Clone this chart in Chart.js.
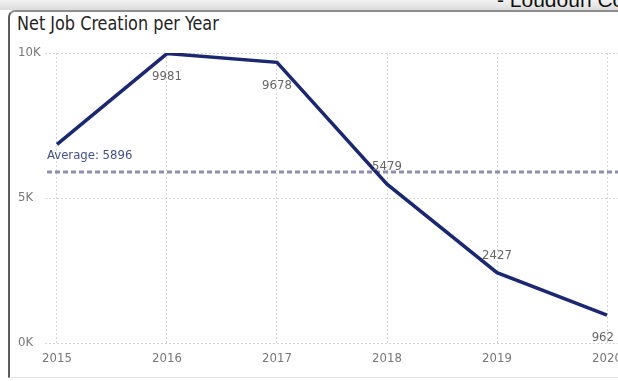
<!DOCTYPE html>
<html>
<head>
<meta charset="utf-8">
<script src="https://cdn.jsdelivr.net/npm/chart.js@4.4.1/dist/chart.umd.min.js"></script>
<style>
  html, body { margin: 0; padding: 0; width: 618px; height: 381px; overflow: hidden; background: #fff; position: relative; }
  .band { position: absolute; left: 0; top: 0; width: 618px; height: 10px; background: linear-gradient(#f2f2f2, #dcdcdc); overflow: hidden; }
  .band span { position: absolute; left: 497px; top: -12px; font: 21px "Liberation Sans", Arial, sans-serif; color: #111; white-space: nowrap; }
  .panel { position: absolute; left: 8px; top: 10px; width: 660px; height: 368px; border-top: 2px solid #8d8d8d; border-left: 2px solid #5c5c5c; border-bottom: 1px solid #e2e2e2; border-top-left-radius: 7px; box-sizing: border-box; }
  .title { position: absolute; left: 17px; top: 12px; font: 19px "DejaVu Sans Condensed", sans-serif; color: #252423; white-space: nowrap; transform: scaleX(0.94); transform-origin: left top; }
  #wrap { position: absolute; left: 0; top: 0; width: 640px; height: 381px; }
</style>
</head>
<body>
<div class="band"><span>- Loudoun County</span></div>
<div class="panel"></div>
<div class="title">Net Job Creation per Year</div>
<div id="wrap"><canvas id="jobs"></canvas></div>
<script>
const years = [2015, 2016, 2017, 2018, 2019, 2020];
const jobs = [6849, 9981, 9678, 5479, 2427, 962];
const yTicks = [0, 5000, 10000];
const yTickLabels = ['0K', '5K', '10K'];

const FONT = "'DejaVu Sans Condensed', sans-serif";
const average = Math.round(jobs.reduce((a, b) => a + b, 0) / jobs.length);

// where each value label sits relative to its point (first point has none)
const labelSide = [null, 'below', 'below', 'above', 'above', 'below'];

const averageLine = {
  id: 'averageLine',
  beforeDatasetsDraw(chart) {
    const {ctx, chartArea, scales} = chart;
    const y = scales.y.getPixelForValue(average);
    ctx.save();
    ctx.strokeStyle = '#8e8cb3';
    ctx.lineWidth = 3;
    ctx.setLineDash([5, 3]);
    ctx.beginPath();
    ctx.moveTo(chartArea.left + 2, y);
    ctx.lineTo(chartArea.right, y);
    ctx.stroke();
    ctx.setLineDash([]);
    ctx.fillStyle = '#44508c';
    ctx.font = '13px ' + FONT;
    ctx.textAlign = 'left';
    ctx.textBaseline = 'middle';
    ctx.fillText('Average: ' + average, chartArea.left + 2, y - 16);
    ctx.restore();
  }
};

const valueLabels = {
  id: 'valueLabels',
  afterDatasetsDraw(chart) {
    const {ctx} = chart;
    const pts = chart.getDatasetMeta(0).data;
    ctx.save();
    ctx.fillStyle = '#666';
    ctx.font = '13px ' + FONT;
    ctx.textAlign = 'center';
    ctx.textBaseline = 'middle';
    pts.forEach((p, i) => {
      if (!labelSide[i]) return;
      const text = String(jobs[i]);
      const half = ctx.measureText(text).width / 2;
      const dy = labelSide[i] === 'below' ? 23 : -17;
      // keep the last label inside the visible edge
      const x = Math.min(p.x, 614 - half);
      ctx.fillText(text, x, p.y + dy);
    });
    ctx.restore();
  }
};

new Chart(document.getElementById('jobs').getContext('2d'), {
  type: 'line',
  data: {
    datasets: [{
      data: years.map((yr, i) => ({x: yr, y: jobs[i]})),
      borderColor: '#1b2770',
      borderWidth: 3.5,
      pointRadius: 0,
      tension: 0,
      fill: false
    }]
  },
  options: {
    responsive: true,
    maintainAspectRatio: false,
    animation: false,
    layout: {padding: {left: 18, top: 53, right: 21, bottom: 10}},
    plugins: {legend: {display: false}, tooltip: {enabled: false}},
    scales: {
      x: {
        type: 'linear',
        min: 2015 - 12 / 110,
        max: 2020 + 12 / 110,
        afterBuildTicks: s => { s.ticks = years.map(v => ({value: v})); },
        afterFit: s => { s.height = 28; },
        ticks: {
          callback: v => String(v),
          color: '#777',
          padding: 8,
          maxRotation: 0,
          font: {family: FONT, size: 13}
        },
        grid: {color: '#d6d6d6', lineWidth: 1, drawTicks: false},
        border: {display: false, dash: [2, 2]}
      },
      y: {
        min: 0,
        max: 10000,
        afterBuildTicks: s => { s.ticks = yTicks.map(v => ({value: v})); },
        afterFit: s => { s.width = 27; },
        ticks: {
          callback: v => yTickLabels[yTicks.indexOf(v)],
          color: '#777',
          crossAlign: 'far',
          font: {family: FONT, size: 13}
        },
        grid: {color: '#d6d6d6', lineWidth: 1, drawTicks: false},
        border: {display: false, dash: [2, 2]}
      }
    }
  },
  plugins: [averageLine, valueLabels]
});
</script>
</body>
</html>
